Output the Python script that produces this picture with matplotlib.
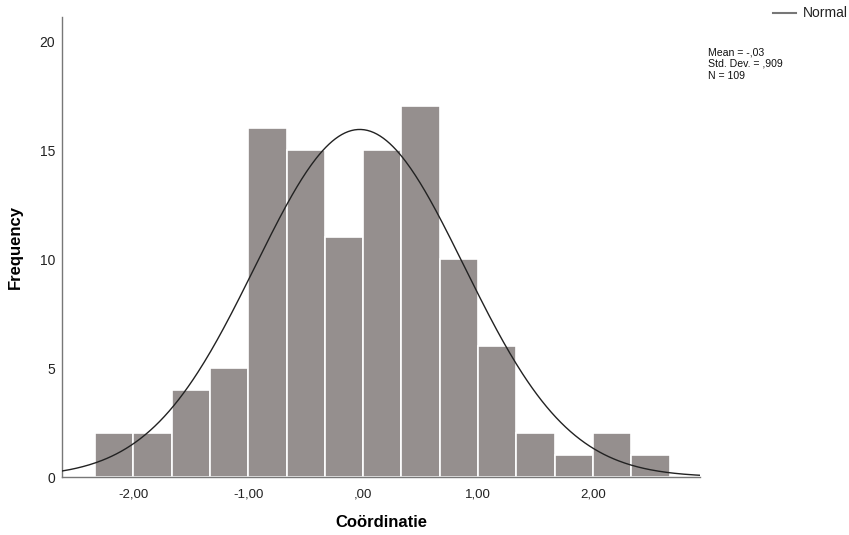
import numpy as np
import matplotlib
matplotlib.use("Agg")
import matplotlib.pyplot as plt
from matplotlib.lines import Line2D

plt.rcParams['font.family'] = ['Liberation Sans', 'DejaVu Sans']

bin_edges_start = -7/3
bin_width = 1/3
counts = [2, 2, 4, 5, 16, 15, 11, 15, 17, 10, 6, 2, 1, 2, 1]
mean, sd, n = -0.03, 0.909, 109
xticks = [-2, -1, 0, 1, 2]
xticklabels = ["-2,00", "-1,00", ",00", "1,00", "2,00"]
yticks = [0, 5, 10, 15, 20]

W, H = 849, 535
fig = plt.figure(figsize=(W / 100, H / 100), dpi=100)
ax = fig.add_axes([0.073, 0.1084, 0.7515, 0.8596])

lefts = bin_edges_start + bin_width * np.arange(len(counts))
ax.bar(lefts, counts, width=bin_width, align='edge', color='#958f8e',
       edgecolor='white', linewidth=1.2, zorder=2)

xs = np.linspace(-2.62, 2.93, 400)
ys = n * bin_width / (sd * np.sqrt(2 * np.pi)) * np.exp(-0.5 * ((xs - mean) / sd) ** 2)
ax.plot(xs, ys, color='#222222', linewidth=1.0, zorder=3)

ax.set_xlim(-2.62, 2.93)
ax.set_ylim(0, 21.1)
ax.set_xticks(xticks)
ax.set_xticklabels(xticklabels)
ax.set_yticks(yticks)
ax.tick_params(axis='x', length=0, labelsize=9.5, colors='#222222', pad=8)
ax.tick_params(axis='y', length=0, labelsize=10, colors='#222222', pad=5)
for s in ['top', 'right']:
    ax.spines[s].set_visible(False)
for s in ['left', 'bottom']:
    ax.spines[s].set_color('#777777')
    ax.spines[s].set_linewidth(1.0)

ax.set_xlabel('Coördinatie', fontsize=12, fontweight='bold', labelpad=11)
ax.set_ylabel('Frequency', fontsize=12, fontweight='bold', labelpad=12)

# legend drawn in figure coordinates
ly = 1 - 13 / H
fig.add_artist(Line2D([773 / W, 796 / W], [ly, ly], transform=fig.transFigure,
                      color='#777777', linewidth=1.5))
fig.text(803 / W, ly, 'Normal', fontsize=10, va='center', ha='left', color='#222222')

fig.text(0.834, 0.912, 'Mean = -,03\nStd. Dev. = ,909\nN = 109', fontsize=7.6,
         va='top', ha='left', linespacing=1.22, color='#111111')

fig.savefig('out.png', dpi=100)
